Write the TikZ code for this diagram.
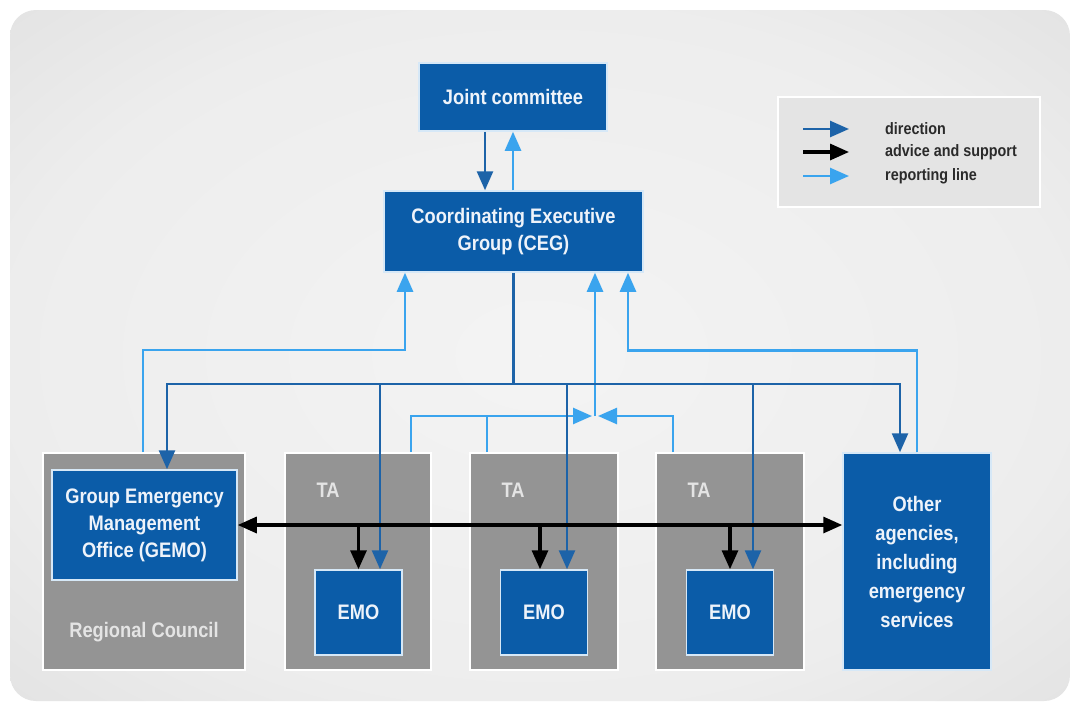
\documentclass[tikz,border=0pt]{standalone}
\usepackage{fontspec}
\setmainfont{Liberation Sans}
\newfontfamily\narrowsans{Liberation Sans}[FakeStretch=0.87]
\usetikzlibrary{arrows.meta,calc}
\definecolor{boxblue}{HTML}{0B5CA8}
\definecolor{boxedge}{HTML}{D6E8F7}
\definecolor{dirblue}{HTML}{1D63A8}
\definecolor{repblue}{HTML}{3AA4EE}
\definecolor{grayb}{HTML}{949494}
\definecolor{txtw}{HTML}{EEF3FA}
\definecolor{txtg}{HTML}{E4E4E4}
\definecolor{legfill}{HTML}{E4E4E4}
\definecolor{legtxt}{HTML}{2A2A2A}
\pgfdeclareradialshading{bgshade}{\pgfpoint{0bp}{0bp}}{rgb(0bp)=(0.955,0.955,0.955); rgb(25bp)=(0.93,0.93,0.93); rgb(50bp)=(0.84,0.84,0.84)}
\begin{document}
\begin{tikzpicture}[x=1pt,y=-1pt,
  lab/.style={font=\narrowsans\bfseries\fontsize{21}{27}\selectfont},
  bluebox/.style={fill=boxblue,draw=boxedge,line width=1.5pt,text=txtw,align=center,inner sep=0pt,lab},
  graybox/.style={fill=grayb,draw=white,line width=2pt,inner sep=0pt},
  graylab/.style={text=txtg,lab,inner sep=0pt},
  tip/.style={-{Triangle[length=19pt,width=16pt]}},
  dirl/.style={draw=dirblue,line width=2.6pt},
  repl/.style={draw=repblue,line width=2.6pt},
  advl/.style={draw=black,line width=3.2pt},
  legtext/.style={anchor=west,inner sep=0pt,text=legtxt,font=\narrowsans\bfseries\fontsize{16.5}{18}\selectfont},
]
\useasboundingbox (0,0) rectangle (1075,707);
\fill[white] (0,0) rectangle (1075,707);
\shade[shading=bgshade,rounded corners=26pt] (10,10) rectangle (1070,701);

% legend
\node[fill=legfill,draw=white,line width=2pt,minimum width=262pt,minimum height=110pt,inner sep=0pt] (leg) at (909,152) {};
\coordinate (l1a) at (803,129); \coordinate (l1b) at (849,129);
\coordinate (l2a) at (803,152); \coordinate (l2b) at (849,152);
\coordinate (l3a) at (803,176); \coordinate (l3b) at (849,176);
\draw[dirl,tip] (l1a) -- (l1b);
\draw[advl,tip] (l2a) -- (l2b);
\draw[repl,tip] (l3a) -- (l3b);
\node[legtext] (t1) at (885,129) {direction};
\node[legtext] (t2) at (885,152) {advice and support};
\node[legtext] (t3) at (885,176) {reporting line};

% top boxes
\node[bluebox,minimum width=188pt,minimum height=68pt] (jc) at (513,97) {Joint committee};
\node[bluebox,minimum width=259pt,minimum height=81pt] (ceg) at (513.5,231.5) {Coordinating Executive\\Group (CEG)};

% bottom containers
\node[graybox,minimum width=202pt,minimum height=217pt] (rc) at (144,561.5) {};
\node[graybox,minimum width=146pt,minimum height=217pt] (ta1) at (358,561.5) {};
\node[graybox,minimum width=148pt,minimum height=217pt] (ta2) at (544,561.5) {};
\node[graybox,minimum width=148pt,minimum height=217pt] (ta3) at (730,561.5) {};
\node[bluebox,minimum width=148pt,minimum height=217pt,font=\narrowsans\bfseries\fontsize{21}{29}\selectfont] (other) at (917,561.5) {Other\\agencies,\\including\\emergency\\services};

\node[bluebox,minimum width=185pt,minimum height=110pt] (gemo) at (144.5,525) {Group Emergency\\Management\\Office (GEMO)};
\node[graylab] (rcl) at (144,632) {Regional Council};
\node[graylab] (ta1l) at (328,490) {TA};
\node[graylab] (ta2l) at (513,490) {TA};
\node[graylab] (ta3l) at (699,490) {TA};

\node[bluebox,minimum width=87pt,minimum height=85pt] (emo1) at (358.5,612.5) {EMO};
\node[bluebox,minimum width=87pt,minimum height=85pt] (emo2) at (544,612.5) {EMO};
\node[bluebox,minimum width=87pt,minimum height=85pt] (emo3) at (730,612.5) {EMO};

% JC <-> CEG
\draw[dirl,tip] ([xshift=-28pt]jc.south) -- ([xshift=-28pt]jc.south |- ceg.north);
\draw[repl,tip] (jc.south |- ceg.north) -- (jc.south);

% reporting lines
\coordinate (mid) at (595,416);
\draw[repl,tip] ([xshift=-1pt]rc.north) -- ++(0,-102) -| ([xshift=-108.5pt]ceg.south);
\draw[repl,tip] (other.north) -- ++(0,-102) -| ([xshift=114.5pt]ceg.south);
\draw[repl,tip] (mid) -- (ceg.south -| mid);
\draw[repl] ([xshift=-57pt]ta2.north) -- ++(0,-37);
\draw[repl,tip] ([xshift=53pt]ta1.north) |- ([xshift=-3pt]mid);
\draw[repl,tip] ([xshift=-57pt]ta3.north) |- ([xshift=3pt]mid);

% direction lines
\coordinate (busL) at (167,384);
\coordinate (busR) at (900,384);
\draw[dirl] (ceg.south) -- (ceg.south |- busL);
\draw[dirl,tip] (ceg.south |- busL) -| (busL |- gemo.north);
\draw[dirl,tip] (ceg.south |- busR) -| (busR |- other.north);
\draw[dirl,tip] ([xshift=21.5pt]emo1.north |- busL) -- ([xshift=21.5pt]emo1.north);
\draw[dirl,tip] ([xshift=23pt]emo2.north |- busL) -- ([xshift=23pt]emo2.north);
\draw[dirl,tip] ([xshift=23pt]emo3.north |- busL) -- ([xshift=23pt]emo3.north);

% advice and support
\draw[advl,{Triangle[length=19pt,width=16pt]}-{Triangle[length=19pt,width=16pt]}] (gemo.east) -- (gemo.east -| other.west);
\draw[advl,tip] (emo1.north |- gemo.east) -- (emo1.north);
\draw[advl,tip] ([xshift=-4pt]emo2.north |- gemo.east) -- ([xshift=-4pt]emo2.north);
\draw[advl,tip] (emo3.north |- gemo.east) -- (emo3.north);
\end{tikzpicture}
\end{document}
